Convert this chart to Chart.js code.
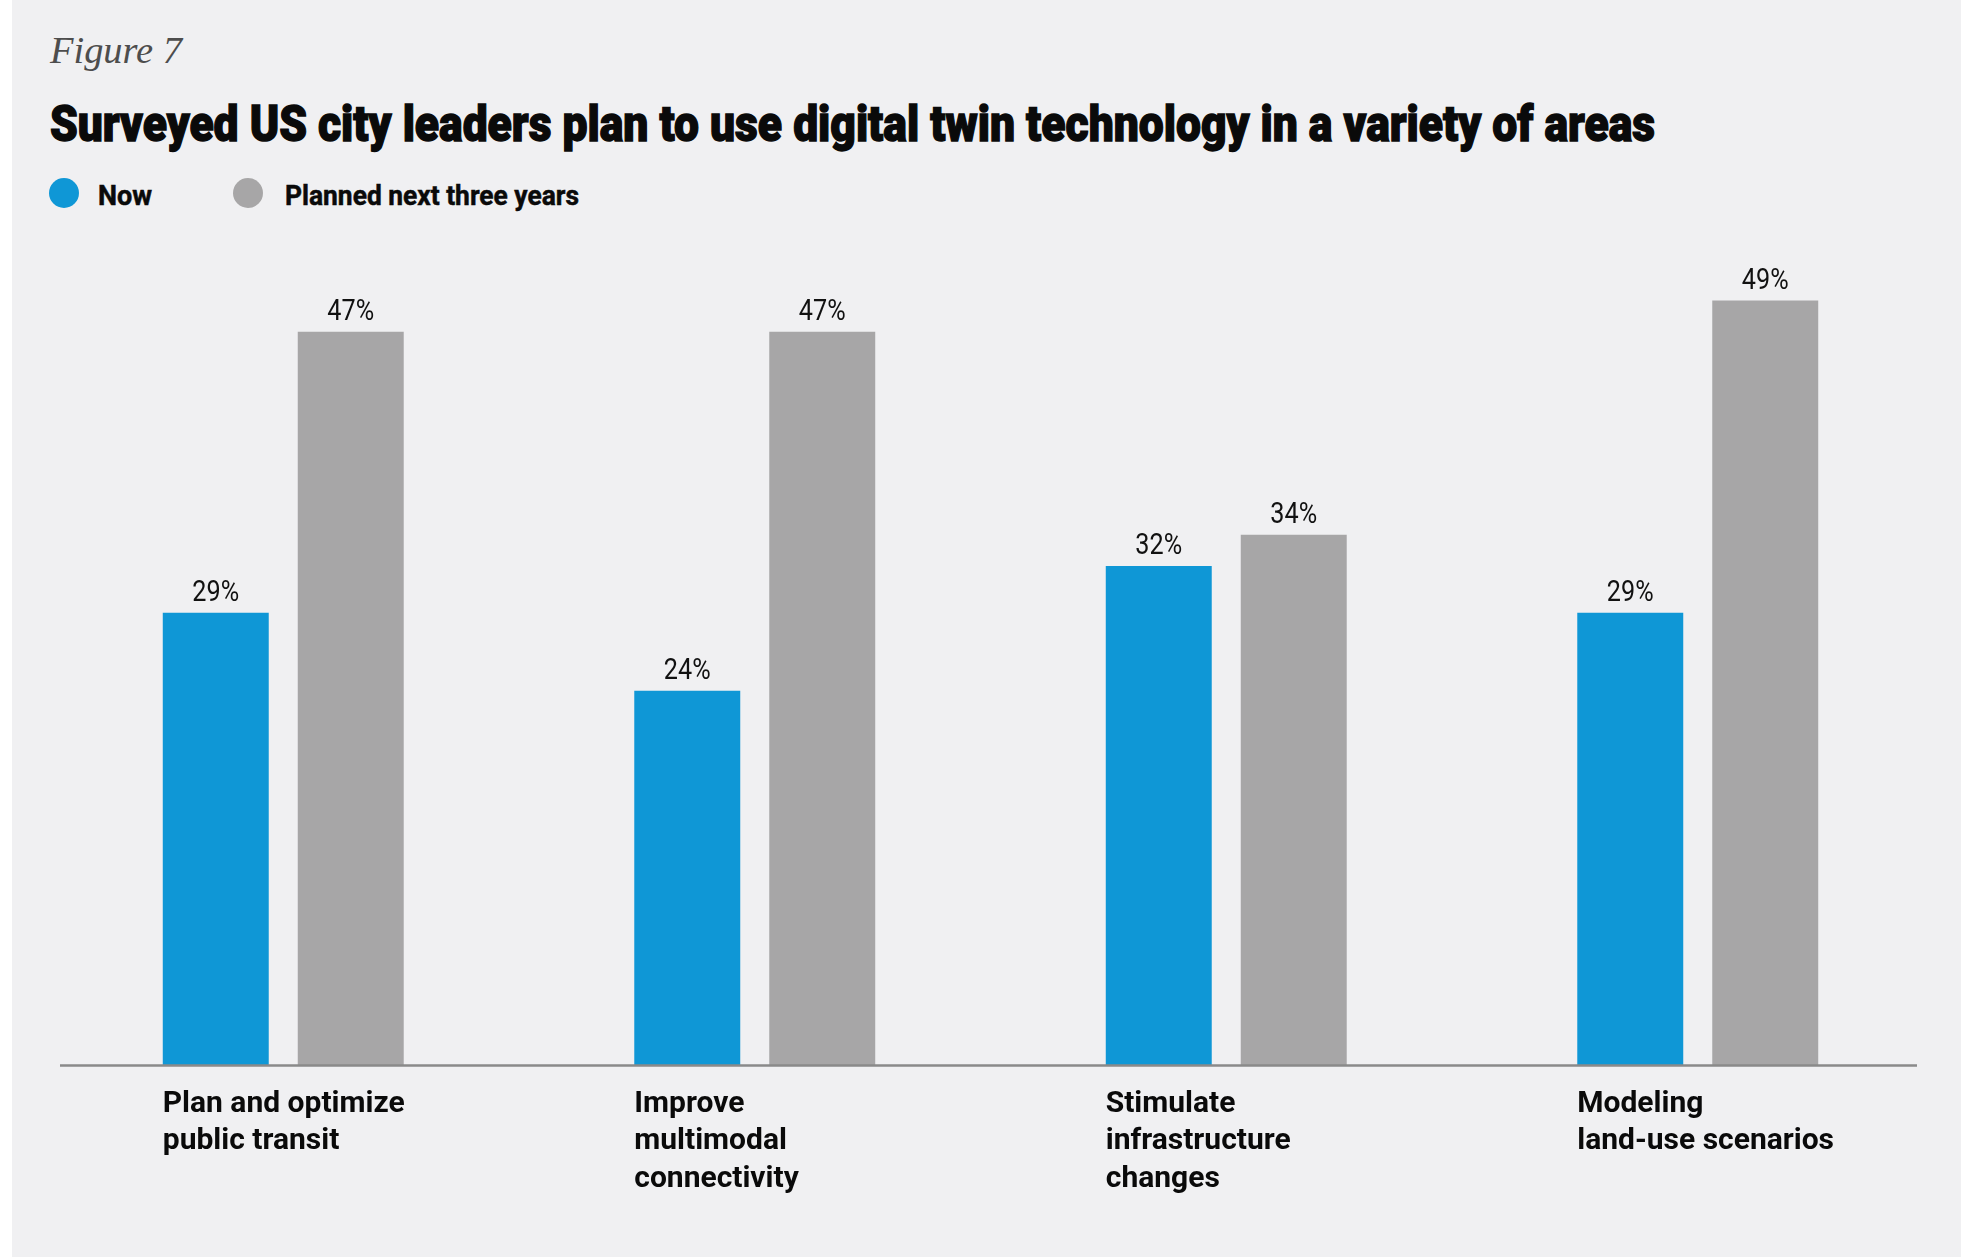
<!DOCTYPE html>
<html>
<head>
<meta charset="utf-8">
<script src="https://cdn.jsdelivr.net/npm/chart.js@4.4.1/dist/chart.umd.min.js"></script>
<style>
  html, body { margin: 0; padding: 0; background: #ffffff; }
  #page { position: relative; width: 1961px; height: 1257px; overflow: hidden; background: #ffffff; }
  #bg { position: absolute; left: 12px; top: 0; right: 0; bottom: 0; background: #f0f0f2; }
  #chart { position: absolute; left: 0; top: 0; }
  .txt { position: absolute; white-space: nowrap; line-height: 1; transform-origin: 0 0; }
  #fig { left: 50px; top: 31px; font-family: "Liberation Serif", "DejaVu Serif", serif; font-style: italic; font-size: 38px; color: #4d4d4d; }
  #title { left: 50px; top: 99px; font-family: Roboto, "DejaVu Sans", sans-serif; font-weight: 900; font-size: 50px; color: #0a0a0a; -webkit-text-stroke: 1.4px #0a0a0a; }
  .leg-dot { position: absolute; width: 30px; height: 30px; border-radius: 50%; }
  .leg-txt { top: 183px; font-family: Roboto, "DejaVu Sans", sans-serif; font-weight: 700; font-size: 27px; color: #0a0a0a; -webkit-text-stroke: 0.5px #0a0a0a; }
</style>
</head>
<body>
<div id="page">
  <div id="bg"></div>
  <div id="fig" class="txt">Figure 7</div>
  <div id="title" class="txt">Surveyed US city leaders plan to use digital twin technology in a variety of areas</div>
  <div id="legend"></div>
  <canvas id="chart" width="1961" height="1257"></canvas>
</div>
<script>
// ---- data ----
const categories = [
  ["Plan and optimize", "public transit"],
  ["Improve", "multimodal", "connectivity"],
  ["Stimulate", "infrastructure", "changes"],
  ["Modeling", "land-use scenarios"]
];
const seriesNames = ["Now", "Planned next three years"];
const nowValues = [29, 24, 32, 29];
const plannedValues = [47, 47, 34, 49];
const seriesColors = ["#0f97d6", "#a7a6a7"];

// ---- header text fitting ----
function fitWidth(el, target) {
  const w = el.getBoundingClientRect().width;
  if (w > 0) el.style.transform = 'scaleX(' + (target / w) + ')';
}
fitWidth(document.getElementById('fig'), 132);
fitWidth(document.getElementById('title'), 1605);

// ---- legend ----
const legend = document.getElementById('legend');
const legendDotX = [49, 233];
const legendTextX = [98, 285];
const legendTextW = [54, 294];
seriesNames.forEach((name, i) => {
  const dot = document.createElement('div');
  dot.className = 'leg-dot';
  dot.style.left = legendDotX[i] + 'px';
  dot.style.top = '178px';
  dot.style.background = seriesColors[i];
  legend.appendChild(dot);
  const t = document.createElement('div');
  t.className = 'txt leg-txt';
  t.style.left = legendTextX[i] + 'px';
  t.textContent = name;
  legend.appendChild(t);
  fitWidth(t, legendTextW[i]);
});

// ---- plugins ----
const valueLabels = {
  id: 'valueLabels',
  afterDatasetsDraw(chart) {
    const ctx = chart.ctx;
    ctx.save();
    ctx.font = '400 30px Roboto, "DejaVu Sans", sans-serif';
    ctx.fillStyle = '#111111';
    ctx.textAlign = 'center';
    ctx.textBaseline = 'alphabetic';
    chart.data.datasets.forEach((ds, di) => {
      const meta = chart.getDatasetMeta(di);
      meta.data.forEach((bar, i) => {
        ctx.save();
        ctx.translate(bar.x, bar.y - 12);
        ctx.scale(0.84, 1);
        ctx.fillText(ds.data[i] + '%', 0, 0);
        ctx.restore();
      });
    });
    ctx.restore();
  }
};
const baseLine = {
  id: 'baseLine',
  afterDatasetsDraw(chart) {
    const ctx = chart.ctx;
    const y = chart.scales.y.getPixelForValue(0);
    const a = chart.chartArea;
    ctx.save();
    ctx.strokeStyle = '#8a8a8a';
    ctx.lineWidth = 2.5;
    ctx.beginPath();
    ctx.moveTo(a.left + 12.5, y);
    ctx.lineTo(a.right - 16.5, y);
    ctx.stroke();
    ctx.restore();
  }
};

new Chart(document.getElementById('chart'), {
  type: 'bar',
  data: {
    labels: categories,
    datasets: [
      { label: seriesNames[0], data: nowValues, backgroundColor: seriesColors[0] },
      { label: seriesNames[1], data: plannedValues, backgroundColor: seriesColors[1] }
    ]
  },
  options: {
    responsive: false,
    animation: false,
    devicePixelRatio: 1,
    datasets: { bar: { categoryPercentage: 0.5726, barPercentage: 0.785, borderWidth: 0 } },
    layout: { padding: { left: 47.5, right: 27.5, top: 285, bottom: 0 } },
    plugins: { legend: { display: false }, tooltip: { enabled: false }, title: { display: false } },
    scales: {
      x: {
        grid: { display: false, drawTicks: false, tickLength: 0 },
        border: { display: false },
        afterFit(scale) { scale.height = 191.5; scale.paddingLeft = 0; scale.paddingRight = 0; },
        ticks: {
          autoSkip: false, maxRotation: 0, minRotation: 0,
          align: 'start', labelOffset: -120.5, padding: 20,
          color: '#0a0a0a',
          font: { family: 'Roboto, "DejaVu Sans", sans-serif', weight: '700', size: 30, lineHeight: 1.25 }
        }
      },
      y: { display: false, min: 0, max: 50 }
    }
  },
  plugins: [valueLabels, baseLine]
});
</script>
</body>
</html>
